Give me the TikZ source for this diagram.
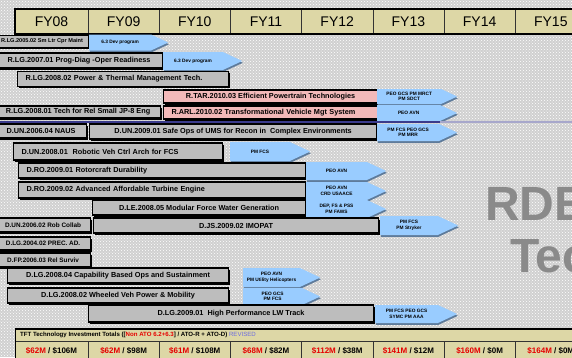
\documentclass[tikz,border=0pt]{standalone}
\usepackage{fontspec}
\setmainfont{Liberation Sans}
\usetikzlibrary{shapes.symbols,shadows,patterns}

\definecolor{tanfill}{HTML}{DDD7A6}
\definecolor{bargray}{HTML}{BDBDBD}
\definecolor{pinkfill}{HTML}{F2B9B9}
\definecolor{skyfill}{HTML}{99CCFF}
\definecolor{skyshade}{HTML}{5E7B9B}
\definecolor{bggray}{HTML}{D0D0D0}
\definecolor{navyline}{HTML}{3B3B8C}
\definecolor{markgray}{HTML}{8A8A8A}
\definecolor{fundred}{HTML}{E60000}
\definecolor{revblue}{HTML}{6A6AE0}

\newcommand{\barfont}{\bfseries\fontsize{7.3}{8}\selectfont}
\newcommand{\smallbarfont}{\bfseries\fontsize{6.4}{7}\selectfont}
\newcommand{\goalfont}{\bfseries\fontsize{4.8}{5.4}\selectfont}

\begin{document}
\begin{tikzpicture}[x=1pt, y=-1pt,
    fycell/.style={draw=black!80, line width=0.6pt, fill=tanfill, minimum height=25, minimum width=71.2, inner sep=0pt, font=\fontsize{14}{16}\selectfont},
    bar/.style={draw=black, line width=1.2pt, fill=bargray, font=\barfont, inner xsep=3pt, inner ysep=0pt, anchor=west,
        drop shadow={shadow xshift=1.2pt, shadow yshift=-1.6pt, fill=black, opacity=1}},
    barL/.style={bar, align=left, inner xsep=8pt, text width=#1},
    goal/.style={signal, signal to=east, signal pointer angle=50, fill=skyfill, font=\goalfont, align=center, inner sep=0pt, anchor=west,
        drop shadow={shadow xshift=0.6pt, shadow yshift=-1.8pt, fill=skyshade, opacity=1}},
    tcell/.style={draw=black!80, line width=0.6pt, fill=tanfill, minimum height=19, minimum width=71.2, inner sep=0pt, font=\bfseries\fontsize{8}{9}\selectfont},
    wmark/.style={text=markgray, font=\bfseries\fontsize{48}{50}\selectfont, inner sep=0pt, anchor=base west}]

\useasboundingbox (0,0) rectangle (572,357);
\clip (0,0) rectangle (572,357);
\fill[bggray] (0,0) rectangle (572,357);
\fill[pattern=crosshatch dots, pattern color=white] (0,0) rectangle (572,357);

% fiscal years
\node[fycell, minimum width=73] (fy08) at (51.5,21.5) {FY08};
\node[fycell] (fy09) at (123.6,21.5) {FY09};
\node[fycell] (fy10) at (194.8,21.5) {FY10};
\node[fycell] (fy11) at (266,21.5) {FY11};
\node[fycell] (fy12) at (337.2,21.5) {FY12};
\node[fycell] (fy13) at (408.4,21.5) {FY13};
\node[fycell] (fy14) at (479.6,21.5) {FY14};
\node[fycell] (fy15) at (550.8,21.5) {FY15};
\draw[line width=1.6pt] (15,9) rectangle (600,34);

% watermark
\node[wmark] (rde) at (485,220) {RDE};
\node[wmark] (tec) at (510,272) {Tec};

% research
\node[bar, minimum width=93, minimum height=12, font=\bfseries\fontsize{5.6}{6}\selectfont] (rlgA) at (-5,41.5) {R.LG.2005.02 Sm Ltr Cpr Maint};
\node[goal, minimum width=79, minimum height=16] (rlgATo) at (89,42.5) {6.3 Dev program};
\node[bar, minimum width=167, minimum height=15] (rlgB) at (-5,60.5) {R.LG.2007.01 Prog-Diag -Oper Readiness};
\node[goal, minimum width=79, minimum height=18] (rlgBTo) at (163,61) {6.3 Dev program};
\node[barL=195, minimum height=15] (rlgC) at (17,79) {R.LG.2008.02 Power \& Thermal Management Tech.};
\node[bar, fill=pinkfill, minimum width=214, minimum height=13] (rtar) at (163,96.5) {R.TAR.2010.03 Efficient Powertrain Technologies};
\node[goal, minimum width=80, minimum height=15] (rtarTo) at (377,96.5) {PEO GCS PM MRCT\\PM SDCT};
\node[bar, minimum width=165, minimum height=12] (rlgD) at (-5,112) {R.LG.2008.01 Tech for Rel Small JP-8 Eng};
\node[barL=198, fill=pinkfill, minimum height=13] (rarl) at (163,112.5) {R.ARL.2010.02 Transformational Vehicle Mgt System};
\node[goal, minimum width=80, minimum height=16] (rarlTo) at (377,113) {PEO AVN};

\draw[navyline, line width=2.2pt] (0,122) -- (440,122);
\draw[navyline!45, line width=2.2pt] (440,122) -- (572,122);

% development
\node[bar, minimum width=91, minimum height=14] (dunA) at (-5,131) {D.UN.2006.04 NAUS};
\node[bar, minimum width=287, minimum height=15] (dunB) at (89,131.5) {D.UN.2009.01 Safe Ops of UMS for Recon in\ \ Complex Environments};
\node[goal, minimum width=80, minimum height=17] (dunBTo) at (377,132.5) {PM FCS PEO GCS\\PM MRR};
\node[barL=193, minimum height=17] (dunC) at (13,151.5) {D.UN.2008.01\ \ Robotic Veh Ctrl Arch for FCS};
\node[goal, minimum width=80, minimum height=19] (dunCTo) at (230,151.5) {PM FCS};
\node[barL=271, minimum height=15] (droA) at (18,170.5) {D.RO.2009.01 Rotorcraft Durability};
\node[goal, minimum width=80, minimum height=18] (droATo) at (306,171) {PEO AVN};
\node[barL=271, minimum height=16] (droB) at (18,190) {D.RO.2009.02 Advanced Affordable Turbine Engine};
\node[goal, minimum width=80, minimum height=18] (droBTo) at (306,191) {PEO AVN\\CRD USAACE};
\node[bar, minimum width=213, minimum height=15] (dle) at (92,207.5) {D.LE.2008.05 Modular Force Water Generation};
\node[goal, minimum width=80, minimum height=18] (dleTo) at (306,209) {DEP, FS \& PSS\\PM FAWS};
\node[bar, minimum width=95, minimum height=14, font=\smallbarfont] (dunD) at (-5,225) {D.UN.2006.02 Rob Collab};
\node[bar, minimum width=285, minimum height=15] (djs) at (93,225.5) {D.JS.2009.02 IMOPAT};
\node[goal, minimum width=78, minimum height=19] (djsTo) at (380,225.5) {PM FCS\\PM Stryker};
\node[bar, minimum width=95, minimum height=13, font=\smallbarfont] (dlgA) at (-5,243.5) {D.LG.2004.02 PREC. AD.};
\node[bar, minimum width=95, minimum height=14, font=\smallbarfont] (dfp) at (-5,260) {D.FP.2006.03 Rel Surviv};
\node[bar, minimum width=221, minimum height=15] (dlgB) at (7,275.5) {D.LG.2008.04 Capability Based Ops and Sustainment};
\node[goal, minimum width=77, minimum height=19] (dlgBTo) at (243,277.5) {PEO AVN\\PM Utility Helicopters};
\node[bar, minimum width=221, minimum height=15] (dlgC) at (7,295.5) {D.LG.2008.02 Wheeled Veh Power \& Mobility};
\node[goal, minimum width=77, minimum height=17] (dlgCTo) at (243,296.5) {PEO GCS\\PM FCS};
\node[bar, minimum width=285, minimum height=17] (dlgD) at (88,313.5) {D.LG.2009.01\ \ High Performance LW Track};
\node[goal, minimum width=82, minimum height=18] (dlgDTo) at (375,314) {PM FCS PEO GCS\\SYMC PM AAA};

% investment totals
\node[tcell, minimum width=585, minimum height=12, anchor=west] (tft) at (15,335) {};
\node[anchor=west, inner sep=0pt, font=\bfseries\fontsize{6.1}{7}\selectfont] (tftText) at (20,335)
    {TFT Technology Investment Totals ([{\color{fundred}Non ATO 6.2+6.3}] / ATO-R + ATO-D) {\mdseries\color{revblue}REVISED}};
\node[tcell, minimum width=73] (usd08) at (51.5,350.5) {{\color{fundred}\$62M} / \$106M};
\node[tcell] (usd09) at (123.6,350.5) {{\color{fundred}\$62M} / \$98M};
\node[tcell] (usd10) at (194.8,350.5) {{\color{fundred}\$61M} / \$108M};
\node[tcell] (usd11) at (266,350.5) {{\color{fundred}\$68M} / \$82M};
\node[tcell] (usd12) at (337.2,350.5) {{\color{fundred}\$112M} / \$38M};
\node[tcell] (usd13) at (408.4,350.5) {{\color{fundred}\$141M} / \$12M};
\node[tcell] (usd14) at (479.6,350.5) {{\color{fundred}\$160M} / \$0M};
\node[tcell] (usd15) at (550.8,350.5) {{\color{fundred}\$164M} / \$0M};
\draw[line width=1.6pt] (15,329) -- (600,329);
\draw[line width=1pt] (15,329) -- (15,360);
\end{tikzpicture}
\end{document}
